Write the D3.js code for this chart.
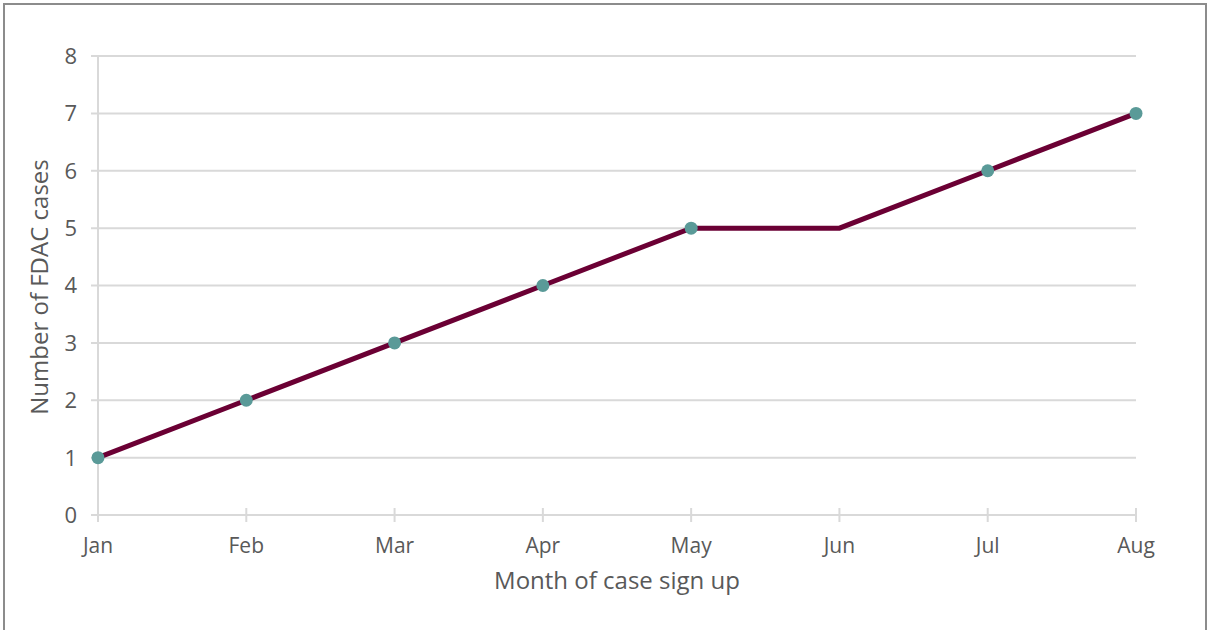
<!DOCTYPE html>
<html><head><meta charset="utf-8">
<script src="https://cdn.jsdelivr.net/npm/d3@7"></script>
<style>
html,body{margin:0;padding:0;background:#fff;}
svg{display:block;}
text{font-family:"Open Sans","Liberation Sans",sans-serif;fill:#595959;}
</style></head>
<body>
<script>
const months = ["Jan","Feb","Mar","Apr","May","Jun","Jul","Aug"];
const cases = [1,2,3,4,5,5,6,7];
const markedMonths = ["Jan","Feb","Mar","Apr","May","Jul","Aug"];
const yTicks = [0,1,2,3,4,5,6,7,8];
const xTitle = "Month of case sign up";
const yTitle = "Number of FDAC cases";

const W = 1207, H = 630;
const svg = d3.select("body").append("svg").attr("width", W).attr("height", H);

// border
svg.append("rect").attr("x",4).attr("y",4).attr("width",1202).attr("height",640)
  .attr("fill","none").attr("stroke","#8c8c8c").attr("stroke-width",2);

const x = d3.scalePoint().domain(months).range([98, 1136]);
const y = d3.scaleLinear().domain([0, 8]).range([515, 56]);

const grid = "#d9d9d9";
svg.append("g").selectAll("line").data(yTicks).join("line")
  .attr("x1", 91).attr("x2", 1136)
  .attr("y1", d => y(d)).attr("y2", d => y(d))
  .attr("stroke", grid).attr("stroke-width", 2);

svg.append("line").attr("x1",98).attr("x2",98).attr("y1",y(8)).attr("y2",522)
  .attr("stroke",grid).attr("stroke-width",2);

svg.append("g").selectAll("line").data(months).join("line")
  .attr("x1", d => x(d)).attr("x2", d => x(d))
  .attr("y1", 508).attr("y2", 522)
  .attr("stroke", grid).attr("stroke-width", 2);

svg.append("g").selectAll("text").data(yTicks).join("text")
  .attr("x", 77).attr("y", d => y(d)).attr("dy","0.36em")
  .attr("text-anchor","end").style("font-size","22px").text(d => d);

svg.append("g").selectAll("text").data(months).join("text")
  .attr("x", d => x(d)).attr("y", 553)
  .attr("text-anchor","middle").style("font-size","21px").text(d => d);

svg.append("text").attr("x", 617).attr("y", 589).attr("text-anchor","middle")
  .style("font-size","24px").text(xTitle);
svg.append("text").attr("transform","translate(48,287) rotate(-90)").attr("text-anchor","middle")
  .style("font-size","24px").text(yTitle);

const data = months.map((m,i) => ({m, v: cases[i]}));
svg.append("path").datum(data)
  .attr("d", d3.line().x(d => x(d.m)).y(d => y(d.v)))
  .attr("fill","none").attr("stroke","#6b0034").attr("stroke-width",5)
  .attr("stroke-linejoin","miter");

svg.append("g").selectAll("circle").data(data.filter(d => markedMonths.includes(d.m))).join("circle")
  .attr("cx", d => x(d.m)).attr("cy", d => y(d.v)).attr("r", 6.5)
  .attr("fill","#5a9a98");
</script>
</body></html>
